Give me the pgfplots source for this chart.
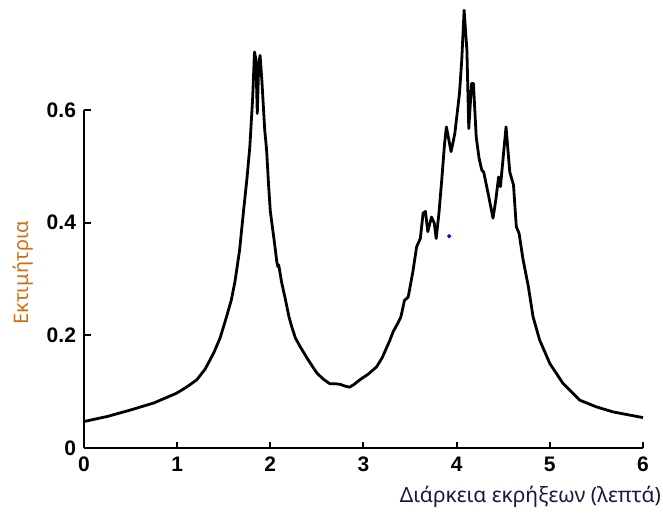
\documentclass[border=0pt]{standalone}
\usepackage{fontspec}
\setmainfont{Noto Sans}
\newfontfamily\tickfont{Liberation Sans}
\usepackage{pgfplots}
\pgfplotsset{compat=1.18}
\definecolor{ylab}{RGB}{205,112,20}
\definecolor{xlab}{RGB}{25,25,60}
\begin{document}
\begin{tikzpicture}
\begin{axis}[
  scale only axis,
  width=279.5pt, height=169pt,
  xmin=0, xmax=6, ymin=0, ymax=0.6,
  clip=false,
  axis x line=bottom,
  axis y line=left,
  axis line style={-, line width=1.3pt, black},
  xtick={0,1,2,3,4,5,6},
  ytick={0,0.2,0.4,0.6},
  yticklabels={0,0.2,0.4,0.6},
  major tick length=0pt,
  /pgf/number format/assume math mode=true,
  ticklabel style={font=\tickfont\bfseries\fontsize{10.5}{12}\selectfont},
  xticklabel style={yshift=-1pt},
  yticklabel style={xshift=-0.5pt},
  xlabel={Διάρκεια εκρήξεων (λεπτά)},
  ylabel={Εκτιμήτρια},
  xlabel style={at={(rel axis cs:1,0)}, anchor=east, xshift=12.5pt, yshift=-24.5pt, text=xlab, font=\fontsize{10.5}{12}\selectfont},
  ylabel style={at={(axis description cs:-0.109,0.518)}, anchor=center, text=ylab, font=\fontsize{10}{12}\selectfont},
]
\addplot[black, line width=1.4pt, line join=round] coordinates {
(0,0.047) (0.25,0.056) (0.49,0.067) (0.75,0.080) (0.99,0.097) (1.10,0.108)
(1.21,0.121) (1.30,0.140) (1.39,0.168) (1.46,0.195) (1.53,0.233) (1.58,0.262)
(1.62,0.295) (1.67,0.351) (1.71,0.417) (1.75,0.480) (1.78,0.535) (1.81,0.620)
(1.83,0.703) (1.845,0.690) (1.86,0.594) (1.875,0.680) (1.89,0.697) (1.91,0.650)
(1.94,0.564) (1.96,0.529) (1.98,0.470) (2.00,0.420) (2.04,0.370) (2.07,0.330)
(2.08,0.322) (2.09,0.325) (2.12,0.295) (2.16,0.265) (2.20,0.233) (2.23,0.215)
(2.27,0.195) (2.32,0.180) (2.40,0.158) (2.50,0.133) (2.57,0.122) (2.64,0.114)
(2.70,0.114) (2.75,0.113) (2.80,0.110) (2.85,0.108) (2.90,0.113) (2.96,0.121)
(3.05,0.131) (3.14,0.144) (3.20,0.160) (3.28,0.190) (3.32,0.207) (3.37,0.222)
(3.40,0.232) (3.44,0.262) (3.48,0.268) (3.53,0.313) (3.57,0.357) (3.61,0.372)
(3.64,0.417) (3.665,0.420) (3.69,0.384) (3.73,0.410) (3.76,0.399) (3.78,0.372)
(3.81,0.417) (3.84,0.476) (3.87,0.540) (3.89,0.570) (3.94,0.526) (3.98,0.558)
(4.03,0.629) (4.055,0.690) (4.08,0.777) (4.11,0.706) (4.13,0.567) (4.16,0.647)
(4.18,0.647) (4.21,0.552) (4.24,0.515) (4.27,0.493) (4.29,0.490) (4.34,0.450)
(4.39,0.408) (4.42,0.440) (4.45,0.481) (4.47,0.464) (4.53,0.570) (4.57,0.490)
(4.61,0.467) (4.64,0.393) (4.67,0.381) (4.71,0.337) (4.77,0.286) (4.82,0.233)
(4.89,0.192) (5.00,0.150) (5.14,0.115) (5.32,0.085) (5.50,0.073) (5.68,0.064)
(6.00,0.054)
};
\addplot[only marks, mark=*, mark size=0.8pt, blue] coordinates {(3.92,0.376)};
\pgfplotsinvokeforeach{1,2,3,4,5,6}{
  \draw[black, line width=1pt] (axis cs:#1,0) -- ++(0pt,3pt);
}
\pgfplotsinvokeforeach{0.2,0.4,0.6}{
  \draw[black, line width=1pt] (axis cs:0,#1) -- ++(3.5pt,0pt);
}
\end{axis}
\pgfresetboundingbox
\path (-42pt,-33.5pt) rectangle (289.5pt,224pt);
\end{tikzpicture}
\end{document}
